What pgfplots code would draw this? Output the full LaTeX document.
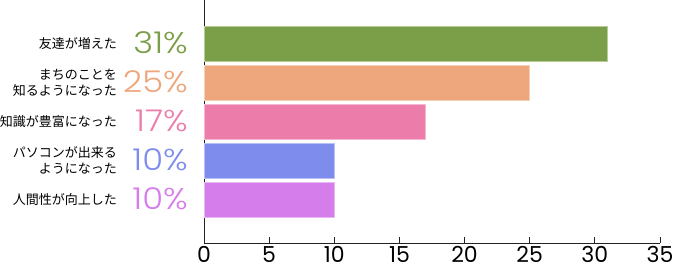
\documentclass[border=0pt]{standalone}
\usepackage{fontspec}
\setmainfont{Poppins}
\newfontfamily\jp{Noto Sans CJK JP}
\newfontfamily\pct{Poppins Light}[FakeStretch=1.13]
\usepackage{pgfplots}
\pgfplotsset{compat=1.18}
\definecolor{cA}{HTML}{7B9E48}
\definecolor{cB}{HTML}{EEA77C}
\definecolor{cC}{HTML}{EC7DAB}
\definecolor{cD}{HTML}{7E8CEE}
\definecolor{cE}{HTML}{D57DEB}
\definecolor{axc}{HTML}{222222}
\begin{document}
\begin{tikzpicture}
\begin{axis}[
  name=ax,
  scale only axis, width=456pt, height=243pt,
  xmin=0, xmax=35, ymin=-0.115, ymax=6.115,
  axis lines=left,
  axis line style={-, draw=axc, line width=0.9pt},
  xtick={0,5,...,35}, ytick=\empty,
  tick align=inside, major tick length=6pt,
  xtick style={draw=axc, line width=0.9pt},
  xticklabel style={font=\fontsize{22}{22}\selectfont, text=black},
  /pgf/number format/assume math mode=true,
  clip=false,
  xbar, bar width=35pt, bar shift=0pt,
]
\addplot[fill=cA, draw=cA!55!white, line width=0.8pt] coordinates {(31,5)};
\addplot[fill=cB, draw=cB!55!white, line width=0.8pt] coordinates {(25,4)};
\addplot[fill=cC, draw=cC!55!white, line width=0.8pt] coordinates {(17,3)};
\addplot[fill=cD, draw=cD!55!white, line width=0.8pt] coordinates {(10,2)};
\addplot[fill=cE, draw=cE!55!white, line width=0.8pt] coordinates {(10,1)};

\begin{scope}[every node/.style={inner sep=0pt, align=right, font=\jp\fontsize{13}{16}\selectfont}]
\node[anchor=east] at ([xshift=-87pt]axis cs:0,5) {友達が増えた};
\node[anchor=east] at ([xshift=-87pt]axis cs:0,4) {まちのことを\\知るようになった};
\node[anchor=east] at ([xshift=-87pt]axis cs:0,3) {知識が豊富になった};
\node[anchor=east] at ([xshift=-87pt]axis cs:0,2) {パソコンが出来る\\ようになった};
\node[anchor=east] at ([xshift=-87pt]axis cs:0,1) {人間性が向上した};
\end{scope}
\begin{scope}[every node/.style={inner sep=0pt, anchor=base east, font=\pct\fontsize{30}{30}\selectfont}]
\node[text=cA] at ([xshift=-16pt,yshift=-10pt]axis cs:0,5) {31\%};
\node[text=cB] at ([xshift=-16pt,yshift=-10pt]axis cs:0,4) {25\%};
\node[text=cC] at ([xshift=-16pt,yshift=-10pt]axis cs:0,3) {17\%};
\node[text=cD] at ([xshift=-16pt,yshift=-10pt]axis cs:0,2) {10\%};
\node[text=cE] at ([xshift=-16pt,yshift=-10pt]axis cs:0,1) {10\%};
\end{scope}
\end{axis}
\pgfresetboundingbox
\path[use as bounding box] ([shift={(-204pt,-26pt)}]ax.south west) rectangle ([shift={(14pt,0pt)}]ax.north east);
\end{tikzpicture}
\end{document}
